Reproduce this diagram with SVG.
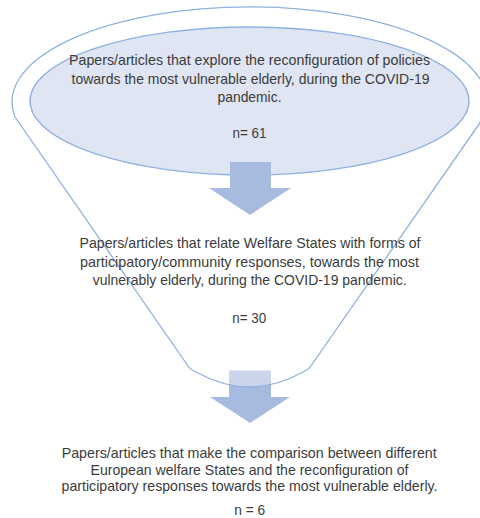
<svg xmlns="http://www.w3.org/2000/svg" width="480" height="518" viewBox="0 0 480 518">
<style>
  .t{font-family:"Liberation Sans",Arial,sans-serif;font-size:14.3px;fill:#3b3b3b;text-anchor:middle}
  .arrow{fill:#a7badf}
</style>
<rect width="480" height="518" fill="#ffffff"/>
<g id="arrow2"><path class="arrow" d="M229,370.5 H271 V397 H290 L250,423 L210,397 H229 Z"/></g>
<g id="funnel">
  <path d="M15,117 A237.5,95 0 1 1 484,117 L313,363 Q309,370 302,372.5 Q249.5,401.5 197,372.5 Q190,370 186,363 Z" fill="#ffffff" fill-opacity="0.4" stroke="#8fb1e0" stroke-width="1.3"/>
</g>
<g id="stage1">
  <ellipse cx="249.5" cy="101" rx="219.5" ry="74" fill="#dfe5f2" stroke="#8fb1e0" stroke-width="1.3"/>
</g>
<g id="connectors">
  <path class="arrow" d="M230,162 H271 V188 H291 L250,215 L209,188 H230 Z"/>
</g>
<g id="text1">
  <text class="t" x="249.5" y="65" textLength="361" lengthAdjust="spacingAndGlyphs">Papers/articles that explore the reconfiguration of policies</text>
  <text class="t" x="250.5" y="83.5" textLength="358" lengthAdjust="spacingAndGlyphs">towards the most vulnerable elderly, during the COVID-19</text>
  <text class="t" x="249.5" y="102" textLength="64" lengthAdjust="spacingAndGlyphs">pandemic.</text>
  <text class="t" x="249.5" y="138" textLength="34" lengthAdjust="spacingAndGlyphs">n= 61</text>
</g>
<g id="text2">
  <text class="t" x="250" y="248" textLength="341" lengthAdjust="spacingAndGlyphs">Papers/articles that relate Welfare States with forms of</text>
  <text class="t" x="249.5" y="266.5" textLength="339" lengthAdjust="spacingAndGlyphs">participatory/community responses, towards the most</text>
  <text class="t" x="249.7" y="285" textLength="314" lengthAdjust="spacingAndGlyphs">vulnerably elderly, during the COVID-19 pandemic.</text>
  <text class="t" x="249.3" y="322.5" textLength="34" lengthAdjust="spacingAndGlyphs">n= 30</text>
</g>
<g id="text3">
  <text class="t" x="249.2" y="458" textLength="375" lengthAdjust="spacingAndGlyphs">Papers/articles that make the comparison between different</text>
  <text class="t" x="249.5" y="474.7" textLength="318" lengthAdjust="spacingAndGlyphs">European welfare States and the reconfiguration of</text>
  <text class="t" x="249.5" y="491.4" textLength="376" lengthAdjust="spacingAndGlyphs">participatory responses towards the most vulnerable elderly.</text>
  <text class="t" x="249.7" y="514.5" textLength="31" lengthAdjust="spacingAndGlyphs">n = 6</text>
</g>
</svg>
